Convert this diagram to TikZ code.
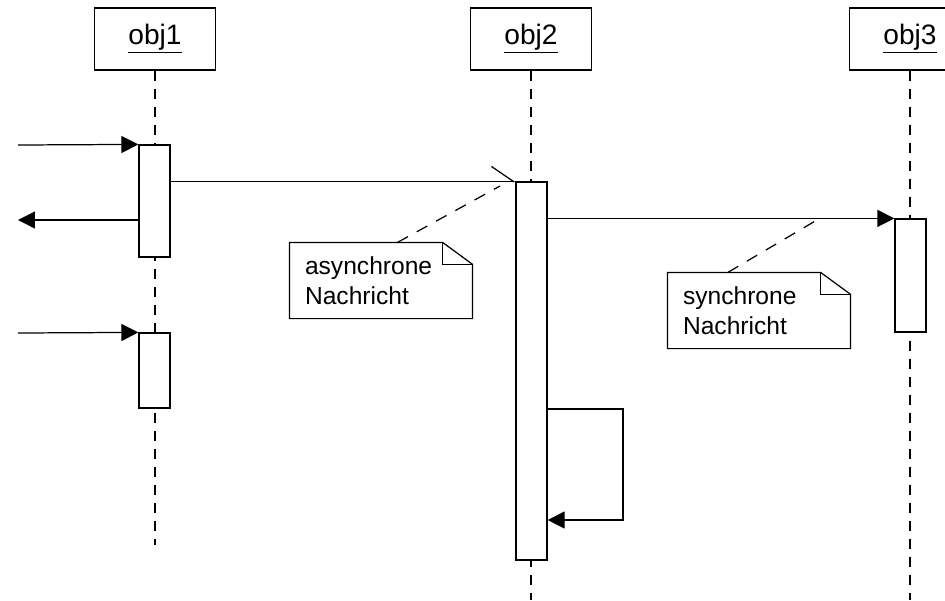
\documentclass[tikz,border=0pt]{standalone}
\usepackage{fontspec}
\setmainfont{Liberation Sans}
\usetikzlibrary{arrows.meta, positioning, calc}

\begin{document}
\begin{tikzpicture}[
    x=0.02cm, y=-0.02cm,
    line width=0.7pt,
    object/.style={rectangle, draw=black, fill=white, minimum width=2.42cm, minimum height=1.24cm, font=\fontsize{16}{19}\selectfont},
    activation/.style={rectangle, draw=black, fill=white, minimum width=0.62cm, inner sep=0pt},
    lifeline/.style={dash pattern=on 0.2cm off 0.16cm},
    note/.style={rectangle, text width=3.04cm, inner xsep=0.3cm, inner ysep=0pt, minimum height=1.5cm, align=left, font=\fontsize{14}{17}\selectfont},
    noteline/.style={dash pattern=on 0.24cm off 0.2cm},
    msg/.style={-{Triangle[length=0.34cm,width=0.34cm]}},
    asyncmsg/.style={-{Straight Barb[harpoon,length=0.44cm,width=0.6cm]}}
]
\clip (0,0) rectangle (945,600);

% objects and lifelines
\node (obj1) [object] at (155,39) {\underline{obj1}};
\node (obj2) [object] at (531,39) {\underline{obj2}};
\node (obj3) [object] at (910,39) {\underline{obj3}};

\coordinate (end1) at (155,545);
\coordinate (end2) at (531,600);
\coordinate (end3) at (910,600);

\draw [lifeline] (obj1.south) -- (end1);
\draw [lifeline] (obj2.south) -- (end2);
\draw [lifeline] (obj3.south) -- (end3);

% activations
\node (act1a) [activation, minimum height=2.24cm] at (154.5,201) {};
\node (act1b) [activation, minimum height=1.5cm] at (154.5,370.5) {};
\node (act2) [activation, minimum height=7.56cm] at (531.5,371) {};
\node (act3) [activation, minimum height=2.26cm] at (910.5,275.5) {};

% messages
\coordinate (in1) at (18,145);
\coordinate (out1) at (18,220);
\coordinate (in2) at (18,333);
\coordinate (selftop) at (623,409);
\coordinate (selfbot) at (623,520);

\draw [msg] (in1) -- (act1a.north west);
\draw [msg] (act1a.west |- out1) -- (out1);
\draw [msg] (in2) -- (act1b.north west);
\draw [asyncmsg] (act1a.east |- act2.north west) -- (act2.north west);
\draw [msg] (act2.east |- act3.north west) -- (act3.north west);
\draw [msg] (act2.east |- selftop) -- (selftop) -- (selfbot) -- (act2.east |- selfbot);

% notes
\node (anote) [note] at (381,280.5) {asynchrone\\Nachricht};
\node (snote) [note] at (759,310.5) {synchrone\\Nachricht};

\foreach \n in {anote, snote} {
  \draw (\n.north west) -- ([xshift=-0.6cm]\n.north east) -- ([yshift=-0.44cm]\n.north east)
        -- (\n.south east) -- (\n.south west) -- cycle;
  \draw ([xshift=-0.6cm]\n.north east) |- ([yshift=-0.44cm]\n.north east);
}

\coordinate (apoint) at (500,186);
\coordinate (spoint) at (822,217);
\draw [noteline] ($(anote.north west)!0.59!(anote.north east)$) -- (apoint);
\draw [noteline] ($(snote.north west)!0.33!(snote.north east)$) -- (spoint);

\end{tikzpicture}
\end{document}
